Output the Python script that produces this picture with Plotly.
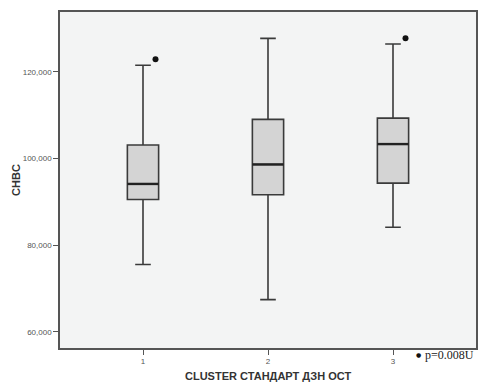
import plotly.graph_objects as go

categories = [1, 2, 3]
q1 = [90500, 91600, 94300]
median = [94100, 98600, 103300]
q3 = [103100, 109000, 109300]
lower_whisker = [75500, 67400, 84100]
upper_whisker = [121500, 127700, 126400]
outlier_cat = [1, 3]
outlier_val = [122900, 127700]
tick_vals = [60000, 80000, 100000, 120000]
tick_text = ["60,000", "80,000", "100,000", "120,000"]

fig = go.Figure()
fig.add_trace(go.Box(
    x=categories, q1=q1, median=median, q3=q3,
    lowerfence=lower_whisker, upperfence=upper_whisker,
    width=0.25, whiskerwidth=0.5,
    fillcolor="#d4d4d4", line=dict(color="#3a3a3a", width=1.6),
    boxpoints=False, showlegend=False, hoverinfo="skip",
))
# thicker median lines
for c, m in zip(categories, median):
    fig.add_shape(type="line", x0=c - 0.125, x1=c + 0.125, y0=m, y1=m,
                  xref="x", yref="y", line=dict(color="#222222", width=2.4))
fig.add_trace(go.Scatter(
    x=[c + 0.1 for c in outlier_cat], y=outlier_val, mode="markers",
    marker=dict(color="#111111", size=6), showlegend=False, hoverinfo="skip",
))

axis_common = dict(
    showgrid=False, zeroline=False, showline=True, linecolor="#555555",
    linewidth=1.5, mirror=True, ticks="outside", ticklen=5, tickwidth=1.3,
    tickcolor="#555555", automargin=False,
    tickfont=dict(family="Liberation Sans, Arial, sans-serif", size=8, color="#555555"),
)
fig.update_layout(
    width=480, height=384,
    margin=dict(l=60, r=4, t=12, b=36),
    paper_bgcolor="white", plot_bgcolor="#f3f4f4",
    xaxis=dict(range=[0.336, 3.664], tickvals=categories,
               ticktext=[str(c) for c in categories], **axis_common),
    yaxis=dict(range=[56240, 133780], tickvals=tick_vals, ticktext=tick_text,
               **axis_common),
)
title_font = dict(family="Liberation Sans, Arial, sans-serif", size=11, color="#333333")
fig.add_annotation(text="<b>CLUSTER СТАНДАРТ ДЗН ОСТ</b>", x=0.5, y=-0.083,
                   xref="paper", yref="paper", showarrow=False,
                   font=title_font, xanchor="center", yanchor="middle")
fig.add_annotation(text="<b>CHBC</b>", x=-0.106, y=0.5, textangle=-90,
                   xref="paper", yref="paper", showarrow=False,
                   font=title_font, xanchor="center", yanchor="middle")
fig.add_annotation(text="p=0.008U", x=1.0, y=-0.022, xref="paper", yref="paper",
                   xanchor="right", yanchor="middle", showarrow=False,
                   font=dict(family="Liberation Serif, Times New Roman, serif", size=12, color="#222222"))
fig.add_annotation(text="●", x=0.862, y=-0.018, xref="paper", yref="paper",
                   xanchor="center", yanchor="middle", showarrow=False,
                   font=dict(family="DejaVu Sans", size=6, color="#111111"))
fig.write_html("out.html")
